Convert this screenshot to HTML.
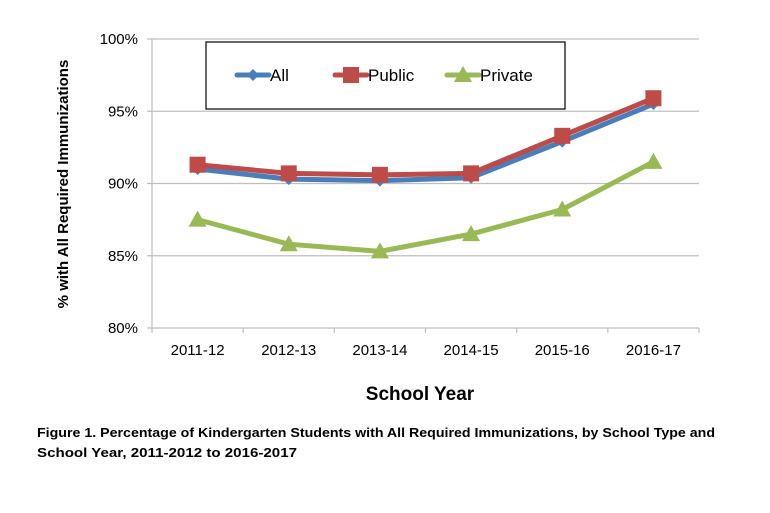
<!DOCTYPE html>
<html><head><meta charset="utf-8"><style>
body{margin:0;background:#fff}
svg{display:block;font-family:"Liberation Sans",sans-serif}
</style></head><body>
<svg id="c" width="770" height="513"></svg>
<script>
const categories=["2011-12","2012-13","2013-14","2014-15","2015-16","2016-17"];
const allValues=[91.0,90.3,90.2,90.4,92.9,95.5];
const publicValues=[91.3,90.7,90.6,90.7,93.3,95.9];
const privateValues=[87.5,85.8,85.3,86.5,88.2,91.5];
const yTicks=[80,85,90,95,100];
const yTickLabels=["80%","85%","90%","95%","100%"];

const NS="http://www.w3.org/2000/svg";
const svg=document.getElementById('c');
const L=152,R=699,T=39,B=328;
const bw=(R-L)/categories.length;
function x(i){return L+bw*(i+0.5);}
function y(v){return B-(v-80)/20*(B-T);}
function el(t,a,p){const e=document.createElementNS(NS,t);for(const k in a)e.setAttribute(k,a[k]);(p||svg).appendChild(e);return e;}

yTicks.forEach((v,i)=>{
  const g=el('line',{x1:L-5,x2:R,y1:y(v),y2:y(v),stroke:'#bfbfbf','stroke-width':1.2});
  
  
  const t=el('text',{x:L-14,y:y(v)+5,'text-anchor':'end','font-size':15,fill:'#000'});
  t.textContent=yTickLabels[i];
  
  
});
const ax=el('line',{x1:L,x2:L,y1:T,y2:B,stroke:'#bfbfbf','stroke-width':1.2});


for(let i=0;i<=categories.length;i++){
  const tk=el('line',{x1:L+bw*i,x2:L+bw*i,y1:B,y2:B+5,stroke:'#bfbfbf','stroke-width':1.2});
  
  
}
categories.forEach((c,i)=>{
  const t=el('text',{x:x(i),y:B+27,'text-anchor':'middle','font-size':15,fill:'#000'});
  t.textContent=c;
  
  
});

function marker(type,cx,cy,col,g){
  if(type==='d') return el('polygon',{points:`${cx},${cy-6} ${cx+6},${cy} ${cx},${cy+6} ${cx-6},${cy}`,fill:col},g);
  if(type==='s') return el('rect',{x:cx-8,y:cy-8,width:16,height:16,fill:col},g);
  return el('polygon',{points:`${cx},${cy-9} ${cx+9},${cy+7} ${cx-9},${cy+7}`,fill:col},g);
}
const series=[
  {name:'all',vals:allValues,col:'#4a7ebb',m:'d'},
  {name:'public',vals:publicValues,col:'#be4b48',m:'s'},
  {name:'private',vals:privateValues,col:'#98b954',m:'t'}
];
[series[2],series[0],series[1]].forEach(s=>{
  const g=el('g',{});
  
  
  const ln=el('polyline',{points:s.vals.map((v,i)=>x(i)+','+y(v)).join(' '),fill:'none',stroke:s.col,'stroke-width':5,'stroke-linejoin':'round'},g);
  
  
  s.vals.forEach((v,i)=>{
    const m=marker(s.m,x(i),y(v),s.col,g);
    
    
  });
});

const lg=el('g',{});


el('rect',{x:206,y:42,width:359,height:67,fill:'#fff',stroke:'#000','stroke-width':1.2},lg);
[[237,'All',series[0]],[335,'Public',series[1]],[447,'Private',series[2]]].forEach(([lx,label,s])=>{
  const e=el('g',{},lg);
  
  
  el('line',{x1:lx,x2:lx+32,y1:75,y2:75,stroke:s.col,'stroke-width':5,'stroke-linecap':'round'},e);
  marker(s.m,lx+16,75,s.col,e);
  const t=el('text',{x:lx+33,y:81,'font-size':17,fill:'#000'},e);
  t.textContent=label;
});

const yt=el('text',{x:0,y:0,transform:'translate(68,184) rotate(-90)','text-anchor':'middle','font-size':15,'font-weight':'bold',fill:'#000'});
yt.textContent='% with All Required  Immunizations';


const xt=el('text',{x:420,y:400,'text-anchor':'middle','font-size':19,'font-weight':'bold',fill:'#000'});
xt.textContent='School Year';


const c1=el('text',{x:37,y:437,'font-size':12.5,'font-weight':'bold',fill:'#000',textLength:678,lengthAdjust:'spacingAndGlyphs'});
c1.textContent='Figure 1. Percentage of Kindergarten Students with All Required Immunizations, by  School Type and';


const c2=el('text',{x:37,y:457,'font-size':12.5,'font-weight':'bold',fill:'#000',textLength:260,lengthAdjust:'spacingAndGlyphs'});
c2.textContent='School Year, 2011-2012 to 2016-2017';


</script>
</body></html>
